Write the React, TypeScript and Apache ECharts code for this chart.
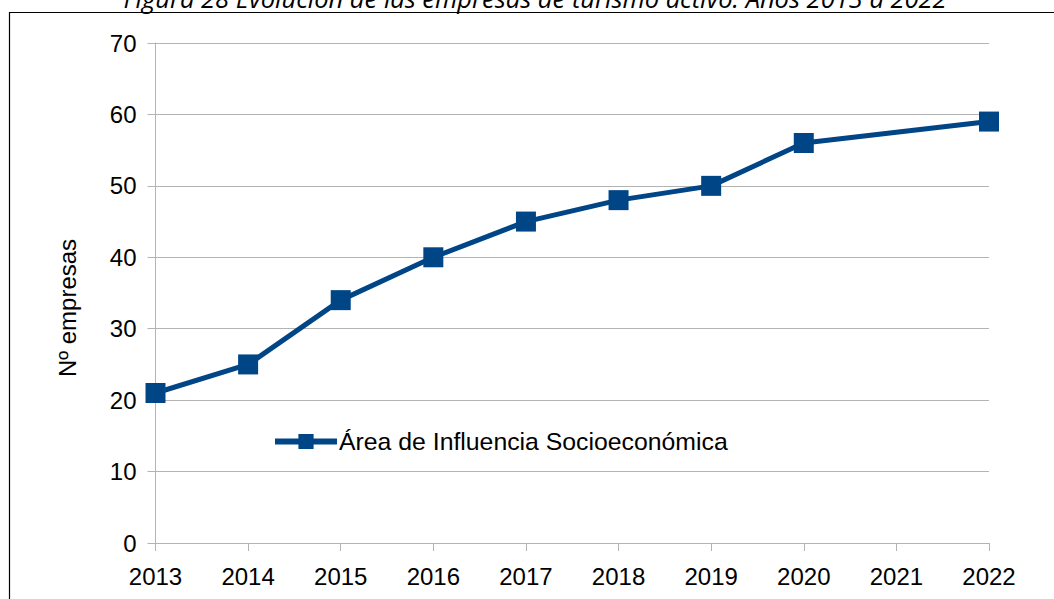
import React, { useEffect, useRef } from "react";
import * as echarts from "echarts";

const years = ["2013", "2014", "2015", "2016", "2017", "2018", "2019", "2020", "2021", "2022"];
const empresas: (number | null)[] = [21, 25, 34, 40, 45, 48, 50, 56, null, 59];
const seriesName = "Área de Influencia Socioeconómica";
const yAxisName = "Nº empresas";
const titleText = "Figura 28 Evolución de las empresas de turismo activo. Años 2013 a 2022";

export default function App() {
  const ref = useRef<HTMLDivElement>(null);
  useEffect(() => {
    document.body.style.margin = "0";
    const chart = echarts.init(ref.current!, undefined, { renderer: "svg" });
    const font = "'Liberation Sans', Arial, sans-serif";
    chart.setOption({
      animation: false,
      backgroundColor: "#ffffff",
      textStyle: { fontFamily: font },
      graphic: [
        {
          type: "rect",
          shape: { x: 9.5, y: 12.5, width: 1100, height: 700 },
          style: { fill: "none", stroke: "#000", lineWidth: 1.2 },
          silent: true,
        },
        {
          type: "text",
          x: 535,
          y: -2,
          style: {
            text: titleText,
            fontFamily: "'Open Sans', sans-serif",
            fontStyle: "italic",
            fontSize: 25.5,
            fill: "#000",
            align: "center",
            verticalAlign: "middle",
          },
        },
      ],
      grid: { left: 155.5, right: 65, top: 43, bottom: 56, containLabel: false },
      legend: {
        left: 267,
        top: 424,
        itemWidth: 62,
        itemHeight: 19,
        itemGap: 10,
        lineStyle: { width: 6 },
        textStyle: { fontSize: 24.8, color: "#000", fontFamily: font, padding: [0, 0, 0, -3] },
        data: [seriesName],
      },
      xAxis: {
        type: "category",
        data: years,
        boundaryGap: false,
        axisLine: { lineStyle: { color: "#b3b3b3", width: 1 } },
        axisTick: { show: true, length: 8, alignWithLabel: true, lineStyle: { color: "#b3b3b3" } },
        axisLabel: { fontSize: 24, color: "#000", margin: 21 },
        splitLine: { show: false },
      },
      yAxis: {
        type: "value",
        min: 0,
        max: 70,
        interval: 10,
        name: yAxisName,
        nameLocation: "middle",
        nameGap: 76,
        nameTextStyle: { fontSize: 24, color: "#000", padding: [0, 30, 0, 0] },
        axisLine: { show: true, lineStyle: { color: "#b3b3b3", width: 1 } },
        axisTick: { show: true, length: 8, lineStyle: { color: "#b3b3b3" } },
        axisLabel: { fontSize: 24, color: "#000", margin: 19 },
        splitLine: { show: true, lineStyle: { color: "#b3b3b3", width: 1 } },
      },
      series: [
        {
          name: seriesName,
          type: "line",
          data: empresas,
          connectNulls: true,
          symbol: "rect",
          symbolSize: 20,
          showAllSymbol: true,
          itemStyle: { color: "#004586" },
          lineStyle: { color: "#004586", width: 5 },
        },
      ],
    });
    return () => chart.dispose();
  }, []);
  return <div ref={ref} style={{ position: "absolute", left: 0, top: 0, width: 1054, height: 599 }} />;
}
